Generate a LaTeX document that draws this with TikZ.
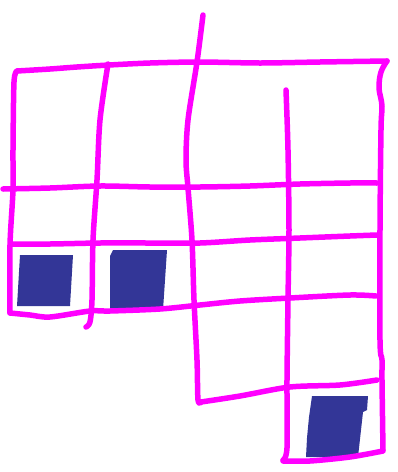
\documentclass[tikz,border=0pt]{standalone}
\begin{document}
\begin{tikzpicture}[x=1pt,y=-1pt,
  pen/.style={draw={rgb,255:red,255;green,0;blue,255},line width=5.5pt,line cap=round,line join=round},
  blob/.style={fill={rgb,255:red,51;green,54;blue,151}}]
\useasboundingbox (0,0) rectangle (398,472);
% filled squares
\fill[blob] (20,255) -- (73,255) -- (70,306) -- (17,306) -- cycle;
\fill[blob] (113,250) -- (167,250) -- (163,310) -- (110,310) -- (110,256) -- cycle;
\fill[blob] (312,396) -- (368,396) -- (367,410) -- (363,412) -- (358,457) -- (306,457) -- (307,438) -- (309,417) -- cycle;
% top line
\draw[pen] plot[smooth,tension=0.5] coordinates {(17,71) (50,69) (77,67) (109,65) (150,63) (200,62) (260,63) (320,62) (387,61)};
% left vertical
\draw[pen] plot[smooth,tension=0.5] coordinates {(17,71) (14,82) (13,150) (13,190) (10,245) (10,313)};
% second vertical
\draw[pen] plot[smooth,tension=0.5] coordinates {(108,64) (100,120) (97,180) (93,240) (92,300) (90,322) (86,327)};
% third vertical
\draw[pen] plot[smooth,tension=0.5] coordinates {(203,15) (197,62) (188,120) (186,160) (188,188) (192,240) (194,300) (197,360) (198,400) (201,402)};
% fourth vertical
\draw[pen] plot[smooth,tension=0.5] coordinates {(286,90) (288,150) (289,230) (288,300) (287,380) (287,448) (283,460)};
% right vertical
\draw[pen] plot[smooth,tension=0.6] coordinates {(387,61) (381,72) (379,88) (382,106) (381,130) (380,230) (380,340) (382,360) (382,380) (383,450)};
% bottom
\draw[pen] plot[smooth,tension=0.5] coordinates {(283,461) (310,461) (350,457) (383,451)};
% horizontal ~188
\draw[pen] plot[smooth,tension=0.5] coordinates {(3,189) (50,188) (100,186) (150,187) (200,187) (250,186) (300,184) (350,183) (377,183)};
% horizontal ~240
\draw[pen] plot[smooth,tension=0.5] coordinates {(12,244) (50,244) (100,243) (150,243) (200,243) (250,240) (300,238) (350,236) (377,235)};
% horizontal ~300
\draw[pen] plot[smooth,tension=0.5] coordinates {(10,313) (30,315) (50,317) (90,311) (110,311) (160,309) (200,305) (240,301) (290,298) (350,295) (376,296)};
% horizontal ~390
\draw[pen] plot[smooth,tension=0.5] coordinates {(201,402) (240,396) (290,387) (340,385) (377,380)};
\end{tikzpicture}
\end{document}
